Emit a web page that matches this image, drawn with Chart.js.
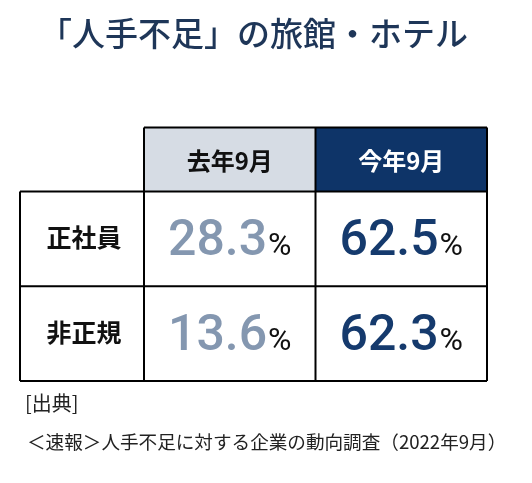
<!DOCTYPE html>
<html>
<head>
<meta charset="utf-8">
<script src="https://cdn.jsdelivr.net/npm/chart.js@4"></script>
<style>
  html, body { margin: 0; padding: 0; background: #fff; }
  #wrap { width: 532px; height: 483px; position: relative; }
</style>
</head>
<body>
<div id="wrap"><canvas id="tbl"></canvas></div>
<script>
// table data
const columns = ['去年9月', '今年9月'];
const rows = ['正社員', '非正規'];
const lastYear = [28.3, 13.6];
const thisYear = [62.5, 62.3];

const titleText = '「人手不足」の旅館・ホテル';
const sourceLabel = '[出典]';
const sourceText = '＜速報＞人手不足に対する企業の動向調査（2022年9月）';

const headerFills = ['#d6dce4', '#0e3468'];
const headerInk = ['#111111', '#ffffff'];
const valueInk = ['#8497b0', '#153a6d'];

const JP = '"Noto Sans CJK JP", "Noto Sans", sans-serif';
const NUM = 'Roboto, "Noto Sans", sans-serif';

// draws the cells of the table from the scales
const tablePlugin = {
    id: 'tableCells',
    beforeDatasetsDraw(chart) {
        const ctx = chart.ctx;
        const xs = chart.scales.x;
        const ys = chart.scales.y;
        const area = chart.chartArea;
        const colW = xs.getPixelForValue(1) - xs.getPixelForValue(0);
        const rowH = ys.getPixelForValue(1) - ys.getPixelForValue(0);

        ctx.save();
        // header backgrounds
        columns.forEach((c, j) => {
            const cx = xs.getPixelForValue(j);
            ctx.fillStyle = headerFills[j];
            ctx.fillRect(cx - colW / 2, xs.top, colW, xs.bottom - xs.top);
        });
        // header text
        ctx.font = 'bold 24px ' + JP;
        ctx.textAlign = 'center';
        ctx.textBaseline = 'middle';
        columns.forEach((c, j) => {
            ctx.fillStyle = headerInk[j];
            ctx.fillText(c, xs.getPixelForValue(j), (xs.top + xs.bottom) / 2 + 1);
        });
        // row labels
        ctx.fillStyle = '#111111';
        ctx.font = 'bold 25px ' + JP;
        rows.forEach((r, i) => {
            ctx.fillText(r, (ys.left + ys.right) / 2 + 2, ys.getPixelForValue(i) - 1);
        });

        // values
        const series = [lastYear, thisYear];
        series.forEach((vals, j) => {
            vals.forEach((v, i) => {
                const num = v.toFixed(1);
                const cx = xs.getPixelForValue(j);
                const cy = ys.getPixelForValue(i);
                ctx.font = '500 50px ' + NUM;
                const wNum = ctx.measureText(num).width;
                ctx.font = '32px ' + NUM;
                const wPct = ctx.measureText('%').width;
                const x0 = cx - (wNum + wPct + 1) / 2;
                const base = cy + 16;
                ctx.textAlign = 'left';
                ctx.textBaseline = 'alphabetic';
                ctx.font = '500 50px ' + NUM;
                ctx.fillStyle = valueInk[j];
                ctx.fillText(num, x0, base);
                ctx.font = '32px ' + NUM;
                ctx.fillStyle = '#111111';
                ctx.fillText('%', x0 + wNum + 1, base);
            });
        });

        // grid lines
        ctx.strokeStyle = '#000000';
        ctx.lineWidth = 2;
        ctx.beginPath();
        // horizontal
        ctx.moveTo(xs.left, xs.top); ctx.lineTo(xs.right, xs.top);
        ctx.moveTo(ys.left, area.top); ctx.lineTo(area.right, area.top);
        rows.forEach((r, i) => {
            const y = ys.getPixelForValue(i) + rowH / 2;
            ctx.moveTo(ys.left, y); ctx.lineTo(area.right, y);
        });
        // vertical
        ctx.moveTo(ys.left, area.top); ctx.lineTo(ys.left, area.bottom);
        ctx.moveTo(area.left, xs.top); ctx.lineTo(area.left, area.bottom);
        columns.forEach((c, j) => {
            const x = xs.getPixelForValue(j) + colW / 2;
            ctx.moveTo(x, xs.top); ctx.lineTo(x, area.bottom);
        });
        ctx.stroke();

        // source note
        ctx.fillStyle = '#222222';
        ctx.textAlign = 'left';
        ctx.textBaseline = 'middle';
        ctx.font = '20px ' + JP;
        ctx.fillText(sourceLabel, ys.left + 5, area.bottom + 22);
        ctx.font = '18.6px ' + JP;
        ctx.fillText(sourceText, ys.left + 7, area.bottom + 61);
        ctx.restore();
    }
};

new Chart(document.getElementById('tbl'), {
    type: 'bar',
    data: {
        labels: columns,
        datasets: [{ data: [], label: '' }]
    },
    options: {
        responsive: true,
        maintainAspectRatio: false,
        animation: false,
        events: [],
        layout: { padding: { left: 20, right: 45, top: 0, bottom: 102 } },
        plugins: {
            legend: { display: false },
            tooltip: { enabled: false },
            title: {
                display: true,
                text: titleText,
                color: '#1e3658',
                font: { family: JP, size: 33, weight: '500' },
                padding: { top: 14, bottom: 74 }
            }
        },
        scales: {
            x: {
                type: 'category',
                labels: columns,
                position: 'top',
                offset: true,
                grid: { display: false },
                border: { display: false },
                ticks: { display: false },
                afterFit(scale) { scale.height = 64; }
            },
            y: {
                type: 'category',
                labels: rows,
                offset: true,
                grid: { display: false },
                border: { display: false },
                ticks: { display: false },
                afterFit(scale) { scale.width = 124; }
            }
        }
    },
    plugins: [tablePlugin]
});
</script>
</body>
</html>
